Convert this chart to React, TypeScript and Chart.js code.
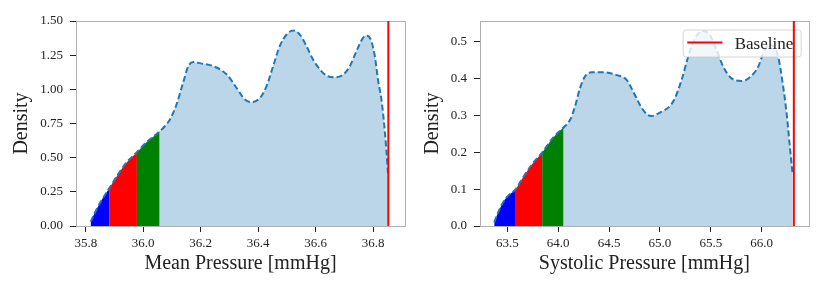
import React, { useEffect, useRef } from 'react';
import { Chart, registerables } from 'chart.js';
Chart.register(...registerables);

// ---------- Data: Mean pressure panel ----------
const meanX = [35.817, 35.83, 35.85, 35.88, 35.91, 35.94, 35.978, 36.01, 36.056, 36.075, 36.093, 36.116, 36.139, 36.157, 36.175, 36.20, 36.243, 36.29, 36.325, 36.354, 36.377, 36.406, 36.429, 36.452, 36.475, 36.499, 36.522, 36.545, 36.568, 36.591, 36.615, 36.638, 36.667, 36.696, 36.719, 36.742, 36.765, 36.777, 36.794, 36.806, 36.817, 36.829, 36.837, 36.846, 36.852];
const meanY = [0.03, 0.09, 0.17, 0.27, 0.37, 0.46, 0.54, 0.61, 0.69, 0.73, 0.78, 0.89, 1.05, 1.17, 1.20, 1.19, 1.17, 1.11, 1.01, 0.925, 0.907, 0.937, 1.022, 1.169, 1.316, 1.401, 1.43, 1.401, 1.316, 1.218, 1.145, 1.10, 1.088, 1.108, 1.169, 1.279, 1.377, 1.394, 1.352, 1.242, 1.071, 0.924, 0.778, 0.56, 0.38];
const meanXTicks = [35.8, 36.0, 36.2, 36.4, 36.6, 36.8];
const meanYTicks = [0, 0.25, 0.5, 0.75, 1.0, 1.25, 1.5];
const meanXRange = [35.766, 36.911];
const meanYRange = [0, 1.5];
const meanRegionBounds = [35.817, 35.882, 35.978, 36.056];
const meanBaseline = 36.853;

// ---------- Data: Systolic pressure panel ----------
const sysX = [63.372, 63.40, 63.45, 63.50, 63.583, 63.65, 63.75, 63.844, 63.95, 64.034, 64.116, 64.165, 64.214, 64.263, 64.329, 64.443, 64.575, 64.673, 64.738, 64.804, 64.87, 64.918, 65.0, 65.098, 65.147, 65.213, 65.278, 65.344, 65.425, 65.491, 65.557, 65.622, 65.704, 65.803, 65.884, 65.966, 66.015, 66.064, 66.113, 66.162, 66.211, 66.245, 66.277, 66.303];
const sysY = [0.01, 0.03, 0.06, 0.08, 0.10, 0.13, 0.17, 0.20, 0.24, 0.263, 0.288, 0.324, 0.374, 0.406, 0.418, 0.418, 0.41, 0.397, 0.365, 0.329, 0.304, 0.299, 0.308, 0.326, 0.347, 0.397, 0.46, 0.51, 0.53, 0.519, 0.478, 0.433, 0.401, 0.394, 0.404, 0.433, 0.469, 0.492, 0.489, 0.46, 0.379, 0.306, 0.215, 0.143];
const sysXTicks = [63.5, 64.0, 64.5, 65.0, 65.5, 66.0];
const sysYTicks = [0, 0.1, 0.2, 0.3, 0.4, 0.5];
const sysXRange = [63.232, 66.462];
const sysYRange = [0, 0.557];
const sysRegionBounds = [63.372, 63.583, 63.844, 64.05];
const sysBaseline = 66.316;

const regionColors = ['#0000ff', '#ff0000', '#008000'];
const legendLabel = 'Baseline';

const FONT = "'Liberation Serif', 'Times New Roman', serif";

type PanelProps = {
  xs: number[]; ys: number[]; xTicks: number[]; yTicks: number[];
  xRange: number[]; yRange: number[]; bounds: number[]; baseline: number;
  xTitle: string; yDecimals: number; yAxisWidth: number; rightPad: number;
  yTitlePad: number; showLegend: boolean;
};

function Panel(p: PanelProps) {
  const ref = useRef<HTMLCanvasElement>(null);
  useEffect(() => {
    if (!ref.current) return;
    const curve = p.xs.map((x, i) => ({ x, y: p.ys[i] }));
    const regionPlugin = {
      id: 'regions',
      afterDatasetDraw(chart: any, args: any) {
        if (args.index !== 2) return;
        const meta = chart.getDatasetMeta(2);
        const pts: any[] = meta.data;
        const { ctx, chartArea } = chart;
        const xs = chart.scales.x, ysc = chart.scales.y;
        const y0 = ysc.getPixelForValue(0);
        for (let i = 0; i < p.bounds.length - 1; i++) {
          const a = xs.getPixelForValue(p.bounds[i]);
          const b = xs.getPixelForValue(p.bounds[i + 1]);
          ctx.save();
          ctx.beginPath();
          ctx.rect(a, chartArea.top, b - a, y0 - chartArea.top + 0.5);
          ctx.clip();
          ctx.beginPath();
          ctx.moveTo(pts[0].x, pts[0].y);
          for (let k = 1; k < pts.length; k++) {
            const pr = pts[k - 1], c = pts[k];
            if (pr.cp2x !== undefined && c.cp1x !== undefined) {
              ctx.bezierCurveTo(pr.cp2x, pr.cp2y, c.cp1x, c.cp1y, c.x, c.y);
            } else ctx.lineTo(c.x, c.y);
          }
          ctx.lineTo(pts[pts.length - 1].x, y0);
          ctx.lineTo(pts[0].x, y0);
          ctx.closePath();
          ctx.fillStyle = regionColors[i];
          ctx.fill();
          ctx.restore();
        }
      },
      beforeDatasetDraw(chart: any, args: any) {
        if (args.index !== 0) return;
        const { ctx, chartArea } = chart;
        ctx.save();
        ctx.strokeStyle = '#b0b0b0';
        ctx.lineWidth = 1;
        ctx.strokeRect(Math.round(chartArea.left) + 0.5, Math.round(chartArea.top) + 0.5,
          Math.round(chartArea.right - chartArea.left), Math.round(chartArea.bottom - chartArea.top));
        if (p.showLegend) {
          const bx = chartArea.right - 126, by = chartArea.top + 8.5, bw = 118, bh = 27;
          ctx.beginPath();
          if ((ctx as any).roundRect) (ctx as any).roundRect(bx + 0.5, by + 0.5, bw, bh, 3);
          else ctx.rect(bx + 0.5, by + 0.5, bw, bh);
          ctx.fillStyle = 'rgba(255,255,255,0.8)';
          ctx.fill();
          ctx.strokeStyle = 'rgba(204,204,204,0.8)';
          ctx.stroke();
          ctx.beginPath();
          ctx.moveTo(bx + 4.5, by + 13);
          ctx.lineTo(bx + 39.7, by + 13);
          ctx.strokeStyle = '#ff0000';
          ctx.lineWidth = 2;
          ctx.stroke();
          ctx.fillStyle = '#222';
          ctx.font = `17px ${FONT}`;
          ctx.textBaseline = 'alphabetic';
          ctx.textAlign = 'left';
          ctx.fillText(legendLabel, bx + 52, by + 19);
        }
        ctx.restore();
      },
    };
    const chart = new Chart(ref.current, {
      type: 'line',
      data: {
        datasets: [
          {
            data: [{ x: p.baseline, y: p.yRange[0] }, { x: p.baseline, y: p.yRange[1] }],
            borderColor: '#ff0000', borderWidth: 2, pointRadius: 0, fill: false, order: 0,
          },
          {
            data: curve, borderColor: '#1f77b4', borderWidth: 2, borderDash: [6, 3],
            pointRadius: 0, fill: false, cubicInterpolationMode: 'monotone', order: 1,
          },
          {
            data: curve, borderColor: 'rgba(0,0,0,0)', borderWidth: 0, pointRadius: 0,
            fill: 'origin', backgroundColor: 'rgba(31,119,180,0.3)',
            cubicInterpolationMode: 'monotone', order: 2,
          },
        ],
      } as any,
      options: {
        animation: false,
        responsive: false,
        devicePixelRatio: 1,
        layout: { padding: { top: 21, right: p.rightPad, left: 0, bottom: 0 } },
        plugins: { legend: { display: false }, tooltip: { enabled: false } },
        scales: {
          x: {
            type: 'linear', min: p.xRange[0], max: p.xRange[1],
            afterBuildTicks: (s: any) => { s.ticks = p.xTicks.map(v => ({ value: v })); },
            afterFit: (s: any) => { s.height = 71; },
            ticks: {
              callback: (v: any) => Number(v).toFixed(1),
              font: { family: FONT, size: 13 }, color: '#222', padding: 4, maxRotation: 0, autoSkip: false,
            },
            grid: { display: true, drawOnChartArea: false, drawTicks: true, tickLength: 6, tickColor: '#222' },
            border: { display: false },
            title: {
              display: true, text: p.xTitle, color: '#222',
              font: { family: FONT, size: 20 }, padding: { top: 0, bottom: 21 },
            },
          },
          y: {
            type: 'linear', min: p.yRange[0], max: p.yRange[1],
            afterBuildTicks: (s: any) => { s.ticks = p.yTicks.map(v => ({ value: v })); },
            afterFit: (s: any) => { s.width = p.yAxisWidth; },
            ticks: {
              callback: (v: any) => Number(v).toFixed(p.yDecimals),
              font: { family: FONT, size: 13 }, color: '#222', padding: 7, autoSkip: false,
            },
            grid: { display: true, drawOnChartArea: false, drawTicks: true, tickLength: 6, tickColor: '#222' },
            border: { display: false },
            title: {
              display: true, text: 'Density', color: '#222',
              font: { family: FONT, size: 20 }, padding: { top: p.yTitlePad, bottom: 0 },
            },
          },
        },
      } as any,
      plugins: [regionPlugin],
    });
    return () => chart.destroy();
  }, []);
  return <canvas ref={ref} width={415} height={297} style={{ display: 'block', width: 415, height: 297 }} />;
}

export default function App() {
  return (
    <div style={{ position: 'absolute', left: 0, top: 0, width: 830, height: 297, display: 'flex', background: '#fff' }}>
      <Panel xs={meanX} ys={meanY} xTicks={meanXTicks} yTicks={meanYTicks} xRange={meanXRange} yRange={meanYRange}
        bounds={meanRegionBounds} baseline={meanBaseline} xTitle="Mean Pressure [mmHg]" yDecimals={2}
        yAxisWidth={76} rightPad={10} yTitlePad={10} showLegend={false} />
      <Panel xs={sysX} ys={sysY} xTicks={sysXTicks} yTicks={sysYTicks} xRange={sysXRange} yRange={sysYRange}
        bounds={sysRegionBounds} baseline={sysBaseline} xTitle="Systolic Pressure [mmHg]" yDecimals={1}
        yAxisWidth={65} rightPad={21.3} yTitlePad={6} showLegend={true} />
    </div>
  );
}
